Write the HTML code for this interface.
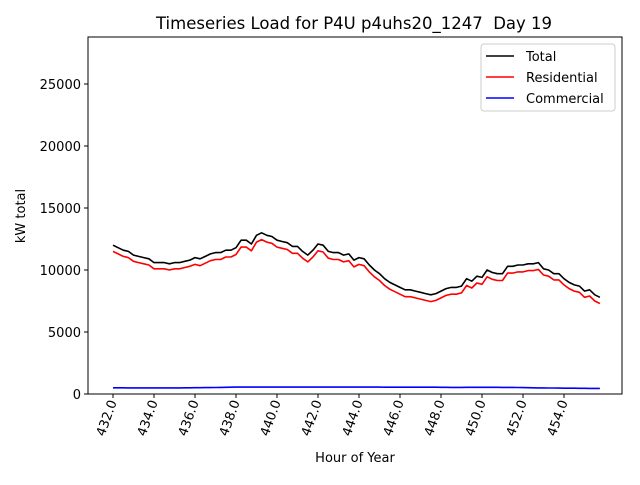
<!DOCTYPE html>
<html><head><meta charset="utf-8"><style>
body{margin:0;background:#fff;}
svg text{font-family:"DejaVu Sans","Liberation Sans",sans-serif;fill:#000;}
</style></head><body>
<svg id="chart" width="640" height="480" viewBox="0 0 640 480">
<rect width="640" height="480" fill="#fff"/>
<text x="354" y="29" font-size="16.5" text-anchor="middle" style="white-space:pre">Timeseries Load for P4U p4uhs20_1247  Day 19</text>
<g id="plot"></g>
<text x="355" y="462" font-size="13" text-anchor="middle">Hour of Year</text>
<text transform="translate(25,216) rotate(-90)" font-size="13" text-anchor="middle">kW total</text>
<g>
<rect x="481" y="44" width="134" height="67" rx="3" fill="#fff" stroke="#ccc" stroke-width="1"/>
<line x1="486" y1="56" x2="514" y2="56" stroke="#000" stroke-width="1.6"/>
<text x="526" y="61" font-size="13">Total</text>
<line x1="486" y1="77" x2="514" y2="77" stroke="#f00" stroke-width="1.6"/>
<text x="526" y="82" font-size="13">Residential</text>
<line x1="486" y1="98" x2="514" y2="98" stroke="#00f" stroke-width="1.6"/>
<text x="526" y="103" font-size="13">Commercial</text>
</g>
</svg>
<script>
const total=[12000,11800,11600,11500,11200,11100,11000,10900,10600,10600,10600,10500,10600,10600,10700,10800,11000,10900,11100,11300,11400,11400,11600,11600,11800,12400,12400,12100,12800,13000,12800,12700,12400,12300,12200,11900,11900,11500,11200,11600,12100,12000,11500,11400,11400,11200,11300,10800,11000,10900,10400,10000,9700,9300,9000,8800,8600,8400,8400,8300,8200,8100,8000,8100,8300,8500,8600,8600,8700,9300,9100,9500,9400,10000,9800,9700,9700,10300,10300,10400,10400,10500,10500,10600,10100,10000,9700,9700,9300,9000,8800,8700,8300,8400,8000,7800];
const residential=[11500,11300,11100,11000,10700,10600,10500,10400,10100,10100,10100,10000,10100,10100,10200,10300,10450,10350,10550,10750,10850,10850,11050,11050,11250,11850,11850,11550,12250,12450,12250,12150,11850,11750,11650,11350,11350,10950,10650,11050,11550,11450,10950,10850,10850,10650,10750,10250,10450,10350,9850,9450,9150,8750,8450,8250,8050,7850,7850,7750,7650,7550,7450,7550,7750,7950,8050,8050,8150,8750,8550,8950,8850,9450,9250,9150,9150,9750,9750,9850,9850,9950,9950,10050,9600,9500,9200,9200,8800,8500,8300,8200,7800,7900,7500,7300];
const commercial=[500,500,500,495,495,490,490,490,490,490,490,490,495,495,500,500,505,510,515,520,525,530,540,550,560,560,560,560,560,560,560,560,560,560,560,560,560,560,560,560,560,560,560,560,560,560,560,555,555,555,555,555,555,550,550,550,550,550,550,550,550,550,550,545,540,540,535,535,535,540,540,540,540,540,540,540,535,530,530,525,520,510,500,495,490,485,480,475,470,465,465,460,460,455,455,450];
const hourStart=432, hourStep=0.25;
const xTicks=[432,434,436,438,440,442,444,446,448,450,452,454];
const yTicks=[0,5000,10000,15000,20000,25000];
const L=88,R=622,T=37,B=394;
const xs=h=>113+(h-432)*(451/22);
const ys=v=>B-v*(62/5000);
const NS='http://www.w3.org/2000/svg';
const g=document.getElementById('plot');
function mk(t,a){const e=document.createElementNS(NS,t);for(const k in a)e.setAttribute(k,a[k]);g.appendChild(e);return e;}
const frame=mk('rect',{x:L,y:T,width:R-L,height:B-T,fill:'none',stroke:'#000','stroke-width':1});


xTicks.forEach(h=>{const x=xs(h);
 const tk=mk('line',{x1:x,y1:B,x2:x,y2:B+4,stroke:'#000'});
 
 
 const t=mk('text',{transform:`translate(${x+4},${B+8}) rotate(-70)`,'font-size':13,'text-anchor':'end'});
 t.textContent=h.toFixed(1);
 
 
});
yTicks.forEach(v=>{const y=ys(v);
 const tk=mk('line',{x1:L-4,y1:y,x2:L,y2:y,stroke:'#000'});
 
 
 const t=mk('text',{x:L-7,y:y+5,'font-size':13,'text-anchor':'end'});
 t.textContent=v;
 
 
});
function line(arr,color,name){
 const pts=arr.map((v,i)=>xs(hourStart+i*hourStep).toFixed(1)+','+ys(v).toFixed(1)).join(' ');
 const p=mk('polyline',{points:pts,fill:'none',stroke:color,'stroke-width':1.6,'stroke-linejoin':'round'});
 
 
}
line(total,'#000','total-line');
line(residential,'#f00','residential-line');
line(commercial,'#00f','commercial-line');
</script>
</body></html>
